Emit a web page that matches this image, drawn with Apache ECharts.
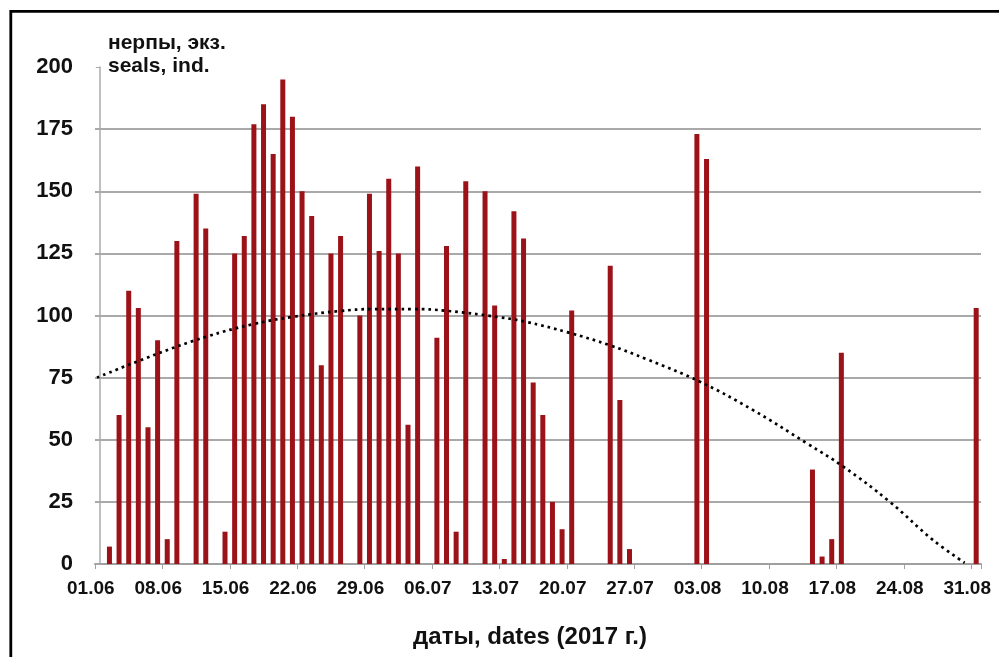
<!DOCTYPE html>
<html><head><meta charset="utf-8">
<script src="https://cdn.jsdelivr.net/npm/echarts@6/dist/echarts.min.js"></script>
<style>html,body{margin:0;padding:0;background:#fff}#c{width:999px;height:657px}</style>
</head><body><div id="c"></div>
<script>
// Observation dates with counts (seals, ind.)
const barDates = ['02.06','03.06','04.06','05.06','06.06','07.06','08.06','09.06','11.06','12.06',
  '14.06','15.06','16.06','17.06','18.06','19.06','20.06','21.06','22.06','23.06','24.06','25.06','26.06',
  '28.06','29.06','30.06','01.07','02.07','03.07','04.07','06.07','07.07','08.07','09.07',
  '11.07','12.07','13.07','14.07','15.07','16.07','17.07','18.07','19.07','20.07',
  '24.07','25.07','26.07','02.08','03.08','14.08','15.08','16.08','17.08','31.08'];
const barValues = [7,60,110,103,55,90,10,130,149,135,
  13,125,132,177,185,165,195,180,150,140,80,125,132,
  100,149,126,155,125,56,160,91,128,13,154,
  150,104,2,142,131,73,60,25,14,102,
  120,66,6,173,163,38,3,10,85,103];
// x-axis tick labels
const tickLabels = ['01.06','08.06','15.06','22.06','29.06','06.07','13.07','20.07','27.07','03.08','10.08','17.08','24.08','31.08'];
// dotted trend line (day offset from 01.06, value)
const trendDays = [-0.3,5.9,11.1,15.9,20.1,24.9,28.4,32.5,36,41.5,44.2,48.7,52.9,56.8,62.3,67.8,73.4,77.2,82,86.5,89.8];
const trendValues = [75,84.5,91.5,96.5,99.5,101.8,102.6,102.6,101.9,99.3,97.5,93.1,88.1,82.4,73.4,62,48.6,39.2,25.1,9.7,0.5];

const months = [['06',30],['07',31],['08',31]];
const categories = [];
months.forEach(([m,n]) => { for (let d = 1; d <= n; d++) categories.push(String(d).padStart(2,'0') + '.' + m); });
const barMap = {};
barDates.forEach((d,k) => { barMap[d] = barValues[k]; });
const barData = categories.map(c => (c in barMap ? barMap[c] : null));
const trendData = trendDays.map((d,k) => [d, trendValues[k]]);
const isTick = (idx, val) => tickLabels.indexOf(val) >= 0;

const chart = echarts.init(document.getElementById('c'), null, {renderer: 'canvas'});
chart.setOption({
  backgroundColor: '#fff',
  animation: false,
  title: {
    text: 'нерпы, экз.\nseals, ind.',
    left: 103, top: 27,
    textStyle: {fontFamily: 'Liberation Sans, Arial, sans-serif', fontWeight: 'bold', fontSize: 21, lineHeight: 23, color: '#111'}
  },
  grid: {left: 95, right: 18, top: 67, bottom: 93, containLabel: false},
  xAxis: [{
    type: 'category',
    data: categories,
    boundaryGap: true,
    axisLine: {show: true, lineStyle: {color: '#a0a0a0', width: 2}},
    axisTick: {show: true, interval: isTick, length: 5, lineStyle: {color: '#a0a0a0', width: 1}},
    axisLabel: {interval: isTick, margin: 15, fontFamily: 'Liberation Sans, Arial, sans-serif', fontWeight: 'bold', fontSize: 19, color: '#111', padding: [0, 18, 0, 0]},
    splitLine: {show: false},
    name: 'даты, dates (2017 г.)',
    nameLocation: 'middle',
    nameGap: 61,
    nameTextStyle: {fontFamily: 'Liberation Sans, Arial, sans-serif', fontWeight: 'bold', fontSize: 24, color: '#111', padding: [0, 16, 0, 0]}
  }, {
    type: 'value', min: -0.5, max: 91.5, show: false
  }],
  yAxis: {
    type: 'value', min: 0, max: 200, interval: 25,
    axisLine: {show: true, lineStyle: {color: '#aaaaaa', width: 1.5}},
    axisTick: {show: true, length: 4, lineStyle: {color: '#aaaaaa'}},
    axisLabel: {margin: 22, fontFamily: 'Liberation Sans, Arial, sans-serif', fontWeight: 'bold', fontSize: 22, color: '#111'},
    splitLine: {show: true, showMinLine: false, showMaxLine: false, lineStyle: {color: '#8c8c8c', width: 1.5}}
  },
  series: [{
    type: 'bar',
    data: barData,
    barWidth: 5,
    itemStyle: {color: '#9b1219'}
  }, {
    type: 'line',
    xAxisIndex: 1,
    data: trendData,
    smooth: 0.4,
    symbol: 'none',
    clip: true,
    lineStyle: {color: '#000', width: 2.7, type: [2.7, 4]},
    z: 5
  }],
  graphic: [{
    type: 'rect',
    shape: {x: 10.8, y: 11.3, width: 1200, height: 1200},
    style: {fill: 'none', stroke: '#000', lineWidth: 2.8},
    silent: true
  }]
});
</script></body></html>
